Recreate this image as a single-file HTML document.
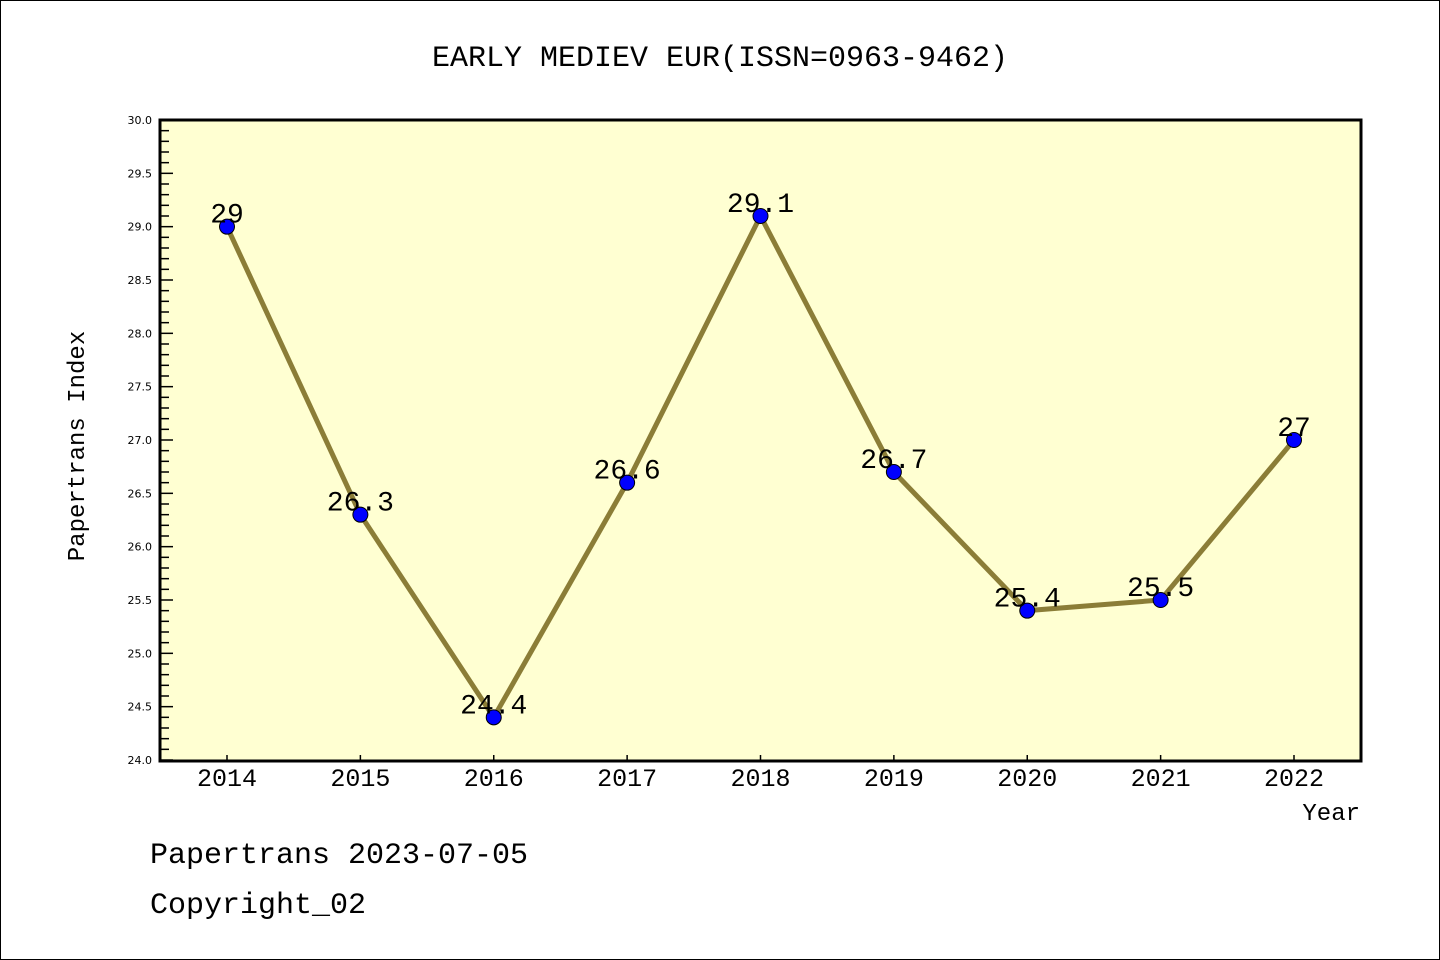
<!DOCTYPE html>
<html><head><meta charset="utf-8"><style>
body{margin:0;background:#fff}
svg{display:block}
text{font-family:"WenQuanYi Zen Hei","Liberation Mono",monospace;fill:#000}
</style></head><body>
<svg width="1440" height="960" viewBox="0 0 1440 960">
<rect x="0.5" y="0.5" width="1439" height="959" fill="#fff" stroke="#000"/>
<text x="720" y="66" font-size="30" text-anchor="middle">EARLY MEDIEV EUR(ISSN=0963-9462)</text>
<rect x="160" y="120" width="1201" height="641" fill="#ffffd2"/>
<g id="axes"></g>
<g id="marks"></g>
<rect x="160" y="120" width="1201" height="641" fill="none" stroke="#000" stroke-width="3"/>
<text transform="translate(84,446) rotate(-90)" font-size="24" text-anchor="middle">Papertrans Index</text>
<text x="1360" y="820" font-size="24" text-anchor="end">Year</text>
<text x="150" y="863" font-size="30">Papertrans 2023-07-05</text>
<text x="150" y="913" font-size="30">Copyright_02</text>
</svg>
<script>
const years=[2014,2015,2016,2017,2018,2019,2020,2021,2022];
const values=[29,26.3,24.4,26.6,29.1,26.7,25.4,25.5,27];
const valueLabels=["29","26.3","24.4","26.6","29.1","26.7","25.4","25.5","27"];
const yTicks=["24.0","24.5","25.0","25.5","26.0","26.5","27.0","27.5","28.0","28.5","29.0","29.5","30.0"];
const NS="http://www.w3.org/2000/svg";
const yMin=24,yMax=30,top_=120,bot=760;
const y=v=>bot-(v-yMin)/(yMax-yMin)*(bot-top_);
const x=yr=>227+(yr-2014)*(1294-227)/8;
function mk(tag,attrs,parent){const e=document.createElementNS(NS,tag);for(const k in attrs)e.setAttribute(k,attrs[k]);parent.appendChild(e);return e;}
const ax=document.getElementById('axes'),mg=document.getElementById('marks');
for(let i=0;i<=60;i++){const v=yMin+i*0.1;const major=i%5===0;
 const t=mk('line',{x1:160,x2:160+(major?13:9),y1:y(v),y2:y(v),stroke:'#000','stroke-width':1.5},ax);
 
 }
yTicks.forEach(s=>{const t=mk('text',{x:152,y:y(parseFloat(s))+4,'font-size':11,'text-anchor':'end',style:'font-family:"DejaVu Sans",sans-serif'},ax);t.textContent=s;
 
 });
years.forEach(yr=>{const t=mk('line',{x1:x(yr),x2:x(yr),y1:761,y2:755,stroke:'#000','stroke-width':1.5},ax);
 
 
 const l=mk('text',{x:x(yr),y:786,'font-size':25,'text-anchor':'middle'},ax);l.textContent=yr;
 
 });
const line=mk('polyline',{points:years.map((yr,i)=>x(yr)+','+y(values[i])).join(' '),fill:'none',stroke:'#8b7d37','stroke-width':5},mg);


years.forEach((yr,i)=>{const c=mk('circle',{cx:x(yr),cy:y(values[i]),r:7.5,fill:'#0000ff',stroke:'#000','stroke-width':1},mg);
 
 
 const l=mk('text',{x:x(yr),y:y(values[i])-4,'font-size':28,'text-anchor':'middle'},mg);l.textContent=valueLabels[i];
 
 });
</script>
</body></html>
